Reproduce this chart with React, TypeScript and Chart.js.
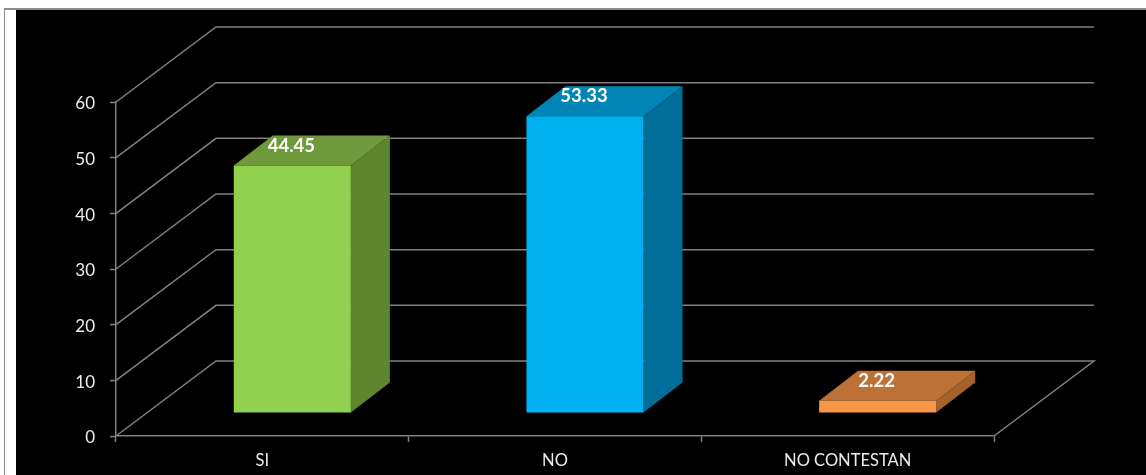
import { useEffect, useRef } from "react";
import { Chart, registerables, Plugin } from "chart.js";

Chart.register(...registerables);

const categories = ["SI", "NO", "NO CONTESTAN"];
const percentages = [44.45, 53.33, 2.22];
const yTicks = [0, 10, 20, 30, 40, 50, 60];
const frontColors = ["#92D050", "#00B0F0", "#F79646"];
const topColors = ["#6F9A3C", "#0085B6", "#BC7236"];
const sideColors = ["#5F8531", "#006E99", "#A4622C"];

const GRID = "#808080";
const TEXT = "#EDEDED";
// Depth of the box and of each column, in canvas pixels.
const WALL_DX = 100;
const WALL_DY = -75;
const BAR_SHIFT_X = 30;
const BAR_SHIFT_Y = -23;
const BAR_DX = 39;
const BAR_DY = -30;
const LABEL_RISE = 20;

// Paints the back wall, floor and the visible faces of the columns.
const perspective: Plugin<"bar"> = {
  id: "perspective",
  beforeDatasetsDraw(chart) {
    const { ctx, chartArea, scales } = chart;
    const { left, right } = chartArea;
    const y = scales.y;
    ctx.save();
    ctx.strokeStyle = GRID;
    ctx.lineWidth = 1.5;
    yTicks.forEach((t) => {
      const py = y.getPixelForValue(t);
      ctx.beginPath();
      ctx.moveTo(left, py);
      ctx.lineTo(left + WALL_DX, py + WALL_DY);
      ctx.lineTo(right + WALL_DX, py + WALL_DY);
      if (t === 0) ctx.lineTo(right, py);
      ctx.stroke();
    });
    ctx.restore();

    ctx.save();
    ctx.translate(BAR_SHIFT_X, BAR_SHIFT_Y);
    chart.getDatasetMeta(0).data.forEach((el: any, i: number) => {
      const half = el.width / 2;
      const l = el.x - half;
      const r = el.x + half;
      const t = el.y;
      const b = el.base;
      ctx.fillStyle = sideColors[i];
      ctx.beginPath();
      ctx.moveTo(r, t);
      ctx.lineTo(r + BAR_DX, t + BAR_DY);
      ctx.lineTo(r + BAR_DX, b + BAR_DY);
      ctx.lineTo(r, b);
      ctx.closePath();
      ctx.fill();
      ctx.fillStyle = topColors[i];
      ctx.beginPath();
      ctx.moveTo(l, t);
      ctx.lineTo(l + BAR_DX, t + BAR_DY);
      ctx.lineTo(r + BAR_DX, t + BAR_DY);
      ctx.lineTo(r, t);
      ctx.closePath();
      ctx.fill();
    });
    // The translation stays active while the column fronts are drawn.
  },
  afterDatasetsDraw(chart) {
    const { ctx } = chart;
    ctx.restore();
    ctx.save();
    ctx.fillStyle = "#FFFFFF";
    ctx.font = "bold 18.5px Lato";
    ctx.textAlign = "center";
    ctx.textBaseline = "middle";
    chart.getDatasetMeta(0).data.forEach((el: any, i: number) => {
      ctx.fillText(
        percentages[i].toFixed(2),
        el.x + BAR_SHIFT_X - 1,
        el.y + BAR_SHIFT_Y - LABEL_RISE
      );
    });
    ctx.restore();
  },
};

export default function App() {
  const ref = useRef<HTMLCanvasElement>(null);

  useEffect(() => {
    const chart = new Chart(ref.current!, {
      type: "bar",
      data: {
        labels: categories,
        datasets: [
          {
            data: percentages,
            backgroundColor: frontColors,
            barPercentage: 0.4,
            categoryPercentage: 1,
            clip: false,
          },
        ],
      },
      options: {
        responsive: false,
        animation: false,
        layout: {
          autoPadding: false,
          padding: { left: 0, right: 152, top: 102, bottom: 0 },
        },
        plugins: { legend: { display: false }, tooltip: { enabled: false } },
        scales: {
          x: {
            afterFit: (s: any) => {
              s.height = 39;
            },
            grid: {
              drawOnChartArea: false,
              tickLength: 6,
              tickWidth: 1.5,
              color: GRID,
            },
            border: { color: GRID, width: 1.5 },
            ticks: {
              color: TEXT,
              padding: 9,
              maxRotation: 0,
              font: { family: "Lato", size: 16.5 },
            },
          },
          y: {
            min: 0,
            max: 60,
            afterFit: (s: any) => {
              s.width = 116;
            },
            grid: {
              drawOnChartArea: false,
              tickLength: 6,
              tickWidth: 1.5,
              color: GRID,
            },
            border: { color: GRID, width: 1.5 },
            ticks: {
              stepSize: 10,
              color: TEXT,
              padding: 15,
              labelOffset: 2,
              font: { family: "Lato", size: 17 },
            },
          },
        },
      },
      plugins: [perspective],
    });
    return () => chart.destroy();
  }, []);

  return (
    <div
      style={{
        position: "fixed",
        inset: 0,
        background: "#FFFFFF",
        overflow: "hidden",
      }}
    >
      <div
        style={{
          position: "absolute",
          left: 4,
          top: 8,
          width: 1142,
          height: 467,
          borderLeft: "1px solid #8C8C8C",
          borderTop: "2px solid #8C8C8C",
          boxSizing: "border-box",
        }}
      />
      <canvas
        ref={ref}
        width={1146}
        height={475}
        style={{
          position: "absolute",
          left: 0,
          top: 0,
          clipPath: "inset(10px 0 0 16px)",
          background: "#000000",
        }}
      />
    </div>
  );
}
